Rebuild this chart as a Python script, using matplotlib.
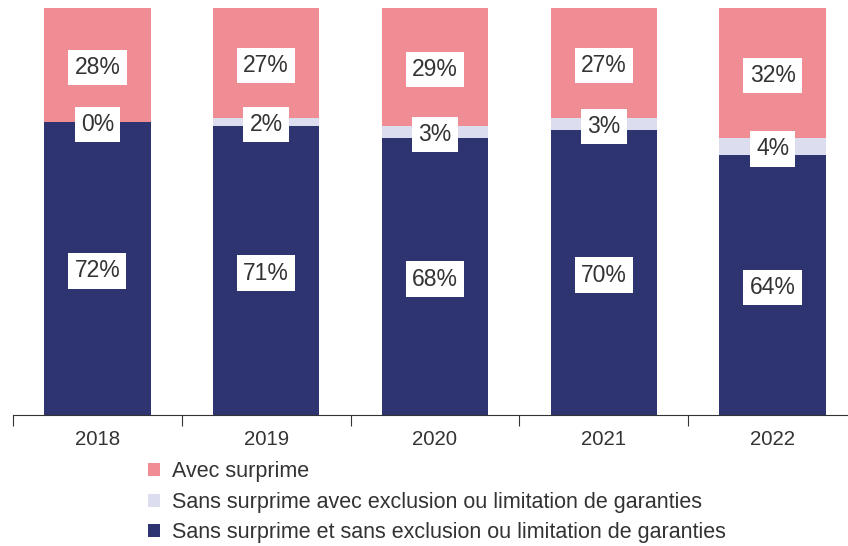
import numpy as np
import matplotlib.pyplot as plt

plt.rcParams['font.family'] = ['Liberation Sans', 'DejaVu Sans']

annees = ["2018", "2019", "2020", "2021", "2022"]
sans_surprime = [72, 71, 68, 70, 64]
avec_exclusion = [0, 2, 3, 3, 4]
avec_surprime = [28, 27, 29, 27, 32]
noms = ["Sans surprime et sans exclusion ou limitation de garanties",
        "Sans surprime avec exclusion ou limitation de garanties",
        "Avec surprime"]
couleurs = ["#2E3470", "#DCDDEE", "#F08C94"]

fig = plt.figure(figsize=(8.48, 5.46), dpi=100)
ax = fig.add_axes([13/848, 131/546, 844/848, 407/546])
x = np.arange(len(annees))
bas = np.zeros(len(annees))
for vals, nom, c in zip([sans_surprime, avec_exclusion, avec_surprime], noms, couleurs):
    vals = np.array(vals, dtype=float)
    ax.bar(x, vals, 0.63, bottom=bas, color=c, label=nom)
    for xi, v, y0 in zip(x, vals, bas):
        ax.text(xi, y0 + v/2, f"{int(v)}%", ha='center', va='center_baseline', fontsize=16.5,
                color='#333333', bbox=dict(facecolor='white', edgecolor='none', pad=4.5))
    bas += vals

ax.set_xlim(-0.5, 4.5)
ax.set_ylim(0, 100)
for s in ['top', 'right', 'left']:
    ax.spines[s].set_visible(False)
ax.spines['bottom'].set_color('#333333')
ax.set_yticks([])
ax.set_xticks(np.arange(-0.5, 5, 1))
ax.set_xticklabels([])
ax.tick_params(axis='x', which='major', length=8, color='#333333')
ax.set_xticks(x, minor=True)
ax.set_xticklabels(annees, minor=True, fontsize=14.7, color='#333333')
ax.tick_params(axis='x', which='minor', length=0, pad=11)

h, l = ax.get_legend_handles_labels()
fig.legend(h[::-1], l[::-1], loc='upper left', bbox_to_anchor=(148/848, 1 - 461/546), frameon=False,
           fontsize=15.5, handlelength=0.56, handleheight=0.56, handletextpad=0.56, labelspacing=0.45,
           labelcolor='#333333', borderpad=0, borderaxespad=0)

plt.savefig("out.png", dpi=100)
